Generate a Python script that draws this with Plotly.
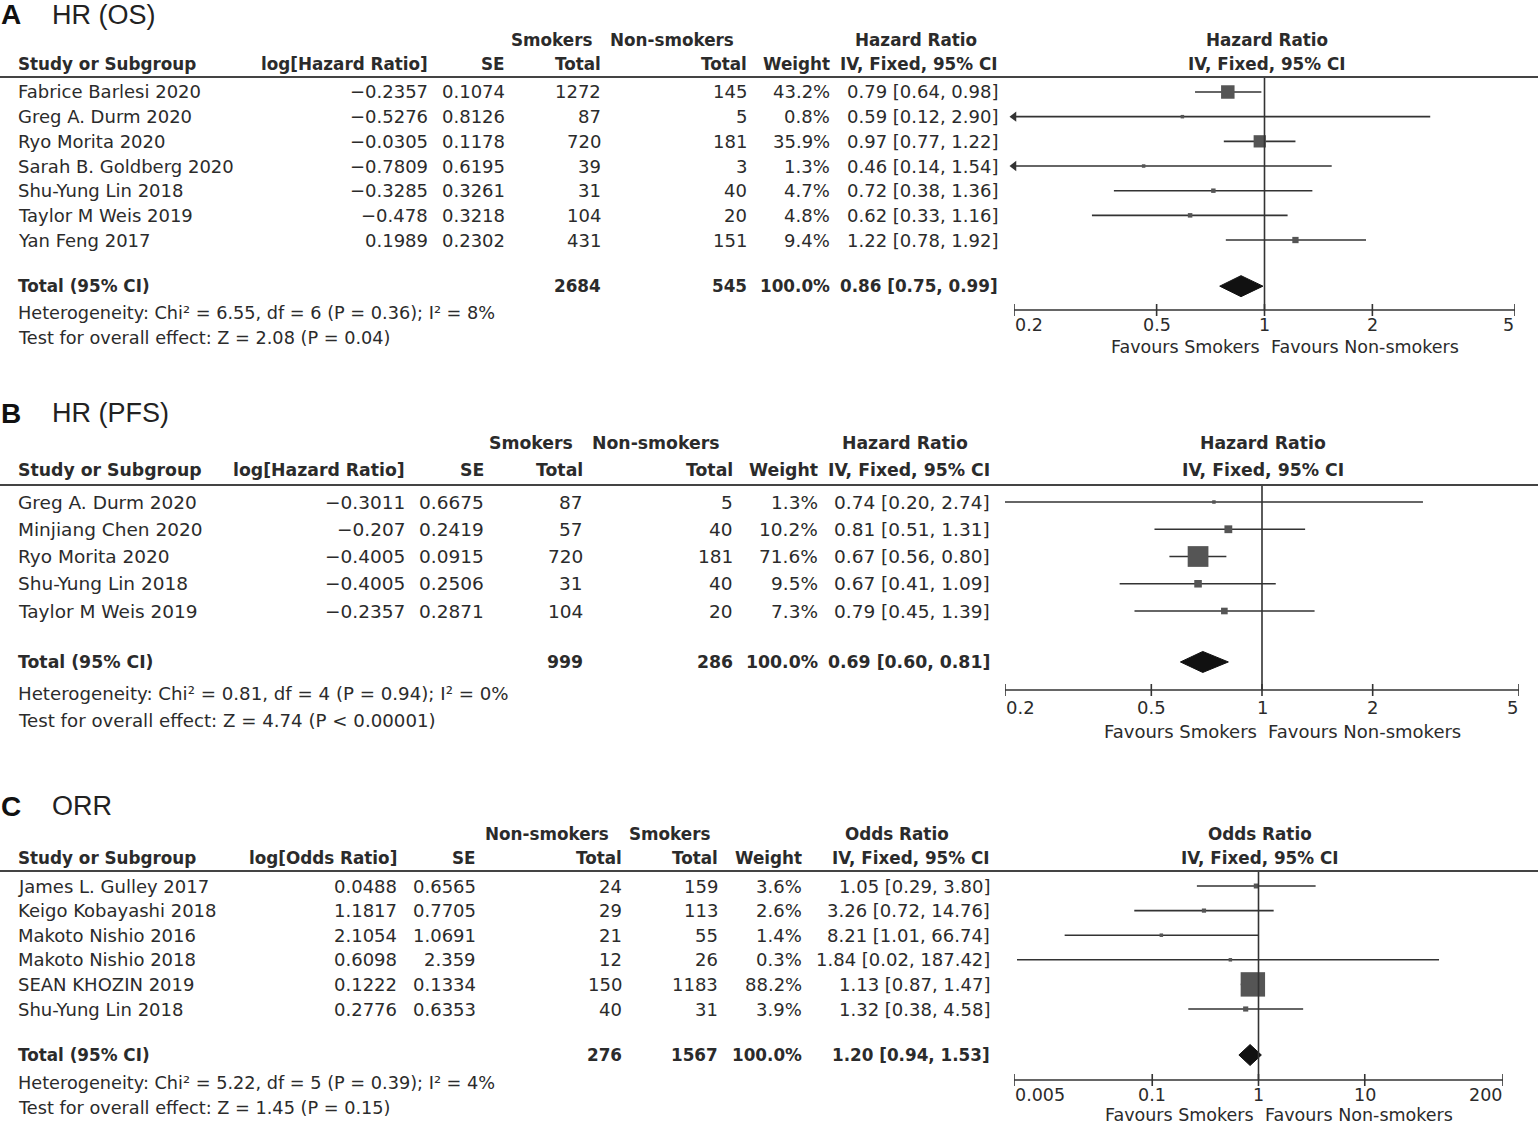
import math
import plotly.graph_objects as go

W, H = 1538, 1125

# ---------------- Panel A : HR (OS) ----------------
a_studies = ["Fabrice Barlesi 2020", "Greg A. Durm 2020", "Ryo Morita 2020", "Sarah B. Goldberg 2020",
             "Shu-Yung Lin 2018", "Taylor M Weis 2019", "Yan Feng 2017"]
a_log = [-0.2357, -0.5276, -0.0305, -0.7809, -0.3285, -0.478, 0.1989]
a_se = [0.1074, 0.8126, 0.1178, 0.6195, 0.3261, 0.3218, 0.2302]
a_n1 = [1272, 87, 720, 39, 31, 104, 431]
a_n2 = [145, 5, 181, 3, 40, 20, 151]
a_weight = [43.2, 0.8, 35.9, 1.3, 4.7, 4.8, 9.4]
a_est = [0.79, 0.59, 0.97, 0.46, 0.72, 0.62, 1.22]
a_lo = [0.64, 0.12, 0.77, 0.14, 0.38, 0.33, 0.78]
a_hi = [0.98, 2.90, 1.22, 1.54, 1.36, 1.16, 1.92]
a_total = dict(n1=2684, n2=545, est=0.86, lo=0.75, hi=0.99)
a_het = dict(chi2="6.55", df=6, p="0.36", i2="8%", z="2.08", pz="P = 0.04")
a_ticks = [0.2, 0.5, 1, 2, 5]

# ---------------- Panel B : HR (PFS) ----------------
b_studies = ["Greg A. Durm 2020", "Minjiang Chen 2020", "Ryo Morita 2020", "Shu-Yung Lin 2018", "Taylor M Weis 2019"]
b_log = [-0.3011, -0.207, -0.4005, -0.4005, -0.2357]
b_se = [0.6675, 0.2419, 0.0915, 0.2506, 0.2871]
b_n1 = [87, 57, 720, 31, 104]
b_n2 = [5, 40, 181, 40, 20]
b_weight = [1.3, 10.2, 71.6, 9.5, 7.3]
b_est = [0.74, 0.81, 0.67, 0.67, 0.79]
b_lo = [0.20, 0.51, 0.56, 0.41, 0.45]
b_hi = [2.74, 1.31, 0.80, 1.09, 1.39]
b_total = dict(n1=999, n2=286, est=0.69, lo=0.60, hi=0.81)
b_het = dict(chi2="0.81", df=4, p="0.94", i2="0%", z="4.74", pz="P < 0.00001")
b_ticks = [0.2, 0.5, 1, 2, 5]

# ---------------- Panel C : ORR ----------------
c_studies = ["James L. Gulley 2017", "Keigo Kobayashi 2018", "Makoto Nishio 2016", "Makoto Nishio 2018",
             "SEAN KHOZIN 2019", "Shu-Yung Lin 2018"]
c_log = [0.0488, 1.1817, 2.1054, 0.6098, 0.1222, 0.2776]
c_se = [0.6565, 0.7705, 1.0691, 2.359, 0.1334, 0.6353]
c_n1 = [24, 29, 21, 12, 150, 40]
c_n2 = [159, 113, 55, 26, 1183, 31]
c_weight = [3.6, 2.6, 1.4, 0.3, 88.2, 3.9]
c_est = [1.05, 3.26, 8.21, 1.84, 1.13, 1.32]
c_lo = [0.29, 0.72, 1.01, 0.02, 0.87, 0.38]
c_hi = [3.80, 14.76, 66.74, 187.42, 1.47, 4.58]
c_total = dict(n1=276, n2=1567, est=1.20, lo=0.94, hi=1.53)
c_het = dict(chi2="5.22", df=5, p="0.39", i2="4%", z="1.45", pz="P = 0.15")
c_ticks = [0.005, 0.1, 1, 10, 200]

FONT = "DejaVu Sans"
TXT = "#2b2b2b"
LINE = "#333333"
BOX = "#555555"

fig = go.Figure()
annotations = []
shapes = []


def px(x):
    return x / W


def py(y):
    return 1 - y / H


def fmt(v):
    return repr(v).replace("-", "\u2212")


def ci_text(e, l, h):
    return f"{e:.2f} [{l:.2f}, {h:.2f}]"


def text(x, y, s, anchor="left", size=18, bold=False, family=FONT, yref="paper", color=TXT):
    if bold:
        s = f"<b>{s}</b>"
    annotations.append(dict(x=px(x), y=(py(y) if yref == "paper" else y), xref="paper", yref=yref,
                            text=s, showarrow=False, xanchor=anchor, yanchor="middle",
                            borderpad=0, borderwidth=0,
                            font=dict(family=family, size=size, color=color)))


def panel(i, cfg, studies, logs, ses, n1, n2, weights, est, lo, hi, total, het, ticks, invert=False):
    fs = cfg["fs"]
    xa = "x" if i == 1 else f"x{i}"
    ya = "y" if i == 1 else f"y{i}"
    s = cfg["step"]
    r0 = cfg["row0"]

    def r(pix):
        return (pix - r0) / s

    r_top = r(cfg["line_y"])
    r_bot = r(cfg["axis_y"] + 30)
    r_axis = r(cfg["axis_y"])

    xmin, xmax = ticks[0], ticks[-1]
    fig.layout[f"xaxis{'' if i == 1 else i}"] = dict(
        type="log", range=[math.log10(xmin), math.log10(xmax)],
        domain=[px(cfg["xdom"][0]), px(cfg["xdom"][1])], visible=False, anchor=ya, fixedrange=True)
    fig.layout[f"yaxis{'' if i == 1 else i}"] = dict(
        range=[r_bot, r_top], domain=[py(cfg["axis_y"] + 30), py(cfg["line_y"])],
        visible=False, anchor=xa, fixedrange=True)

    # titles
    text(1, cfg["title_y"], cfg["letter"], bold=True, size=28, family="Liberation Sans", color="#111")
    text(52, cfg["title_y"], cfg["title"], size=27, family="Liberation Sans", color="#222")

    # headers
    hf = cfg["hf"]
    for lab, cx in cfg["h1"]:
        text(cx, cfg["h1_y"], lab, anchor="center", bold=True, size=hf)
    text(18, cfg["h2_y"], "Study or Subgroup", bold=True, size=hf)
    text(cfg["col_log"], cfg["h2_y"], cfg["logname"], anchor="right", bold=True, size=hf)
    text(cfg["col_se"], cfg["h2_y"], "SE", anchor="right", bold=True, size=hf)
    text(cfg["col_t1"], cfg["h2_y"], "Total", anchor="right", bold=True, size=hf)
    text(cfg["col_t2"], cfg["h2_y"], "Total", anchor="right", bold=True, size=hf)
    text(cfg["col_w"], cfg["h2_y"], "Weight", anchor="right", bold=True, size=hf)
    text(cfg["col_ci"], cfg["h2_y"], "IV, Fixed, 95% CI", anchor="right", bold=True, size=hf)
    text(cfg["fc"], cfg["h1_y"], cfg["measure"], anchor="center", bold=True, size=hf)
    text(cfg["fc"], cfg["h2_y"], "IV, Fixed, 95% CI", anchor="center", bold=True, size=hf)

    shapes.append(dict(type="line", xref="paper", yref="paper", x0=0, x1=1,
                       y0=py(cfg["line_y"]), y1=py(cfg["line_y"]), line=dict(color="#444", width=2)))

    # rows
    for k, name in enumerate(studies):
        text(18, k, name, size=fs, yref=ya)
        text(cfg["col_log"], k, fmt(logs[k]), anchor="right", size=fs, yref=ya)
        text(cfg["col_se"], k, fmt(ses[k]), anchor="right", size=fs, yref=ya)
        text(cfg["col_t1"], k, str(n1[k]), anchor="right", size=fs, yref=ya)
        text(cfg["col_t2"], k, str(n2[k]), anchor="right", size=fs, yref=ya)
        text(cfg["col_w"], k, f"{weights[k]:.1f}%", anchor="right", size=fs, yref=ya)
        text(cfg["col_ci"], k, ci_text(est[k], lo[k], hi[k]), anchor="right", size=fs, yref=ya)

    rt = len(studies) + 0.87
    text(18, rt, "Total (95% CI)", bold=True, size=hf, yref=ya)
    text(cfg["col_t1"], rt, str(total["n1"]), anchor="right", bold=True, size=hf, yref=ya)
    text(cfg["col_t2"], rt, str(total["n2"]), anchor="right", bold=True, size=hf, yref=ya)
    text(cfg["col_w"], rt, "100.0%", anchor="right", bold=True, size=hf, yref=ya)
    text(cfg["col_ci"], rt, ci_text(total["est"], total["lo"], total["hi"]), anchor="right", bold=True,
         size=hf, yref=ya)

    text(18, cfg["het_y"], f"Heterogeneity: Chi\u00b2 = {het['chi2']}, df = {het['df']} (P = {het['p']}); "
                           f"I\u00b2 = {het['i2']}", size=fs - 0.3)
    text(18, cfg["test_y"], f"Test for overall effect: Z = {het['z']} ({het['pz']})", size=fs - 0.3)

    # forest values (panel C drawn on reciprocal scale as in the original figure)
    if invert:
        pe = [1 / v for v in est]
        pl = [1 / v for v in hi]
        ph = [1 / v for v in lo]
        te, tl, th = 1 / total["est"], 1 / total["hi"], 1 / total["lo"]
    else:
        pe, pl, ph = est, lo, hi
        te, tl, th = total["est"], total["lo"], total["hi"]

    # CI lines
    lx, ly = [], []
    for k in range(len(studies)):
        lx += [max(pl[k], xmin), min(ph[k], xmax), None]
        ly += [k, k, None]
    fig.add_trace(go.Scatter(x=lx, y=ly, xaxis=xa, yaxis=ya, mode="lines",
                             line=dict(color=LINE, width=1.6), hoverinfo="skip"))
    # arrows where CI leaves range
    axl = [xmin for k in range(len(studies)) if pl[k] < xmin]
    ayl = [k for k in range(len(studies)) if pl[k] < xmin]
    if axl:
        fig.add_trace(go.Scatter(x=axl, y=ayl, xaxis=xa, yaxis=ya, mode="markers", cliponaxis=False,
                                 marker=dict(symbol="triangle-left", size=9, color=LINE), hoverinfo="skip"))
    axr = [xmax for k in range(len(studies)) if ph[k] > xmax]
    ayr = [k for k in range(len(studies)) if ph[k] > xmax]
    if axr:
        fig.add_trace(go.Scatter(x=axr, y=ayr, xaxis=xa, yaxis=ya, mode="markers", cliponaxis=False,
                                 marker=dict(symbol="triangle-right", size=9, color=LINE), hoverinfo="skip"))
    # squares
    sizes = [max(3.5, cfg["box"] * math.sqrt(w)) for w in weights]
    fig.add_trace(go.Scatter(x=pe, y=list(range(len(studies))), xaxis=xa, yaxis=ya, mode="markers",
                             marker=dict(symbol="square", size=sizes, color=BOX, opacity=1, line=dict(width=0)),
                             hoverinfo="skip"))
    # diamond
    hd = 10.5 / s
    fig.add_trace(go.Scatter(x=[tl, te, th, te, tl], y=[rt, rt - hd, rt, rt + hd, rt], xaxis=xa, yaxis=ya,
                             mode="lines", fill="toself", fillcolor="#111", line=dict(color="#111", width=1),
                             hoverinfo="skip"))
    # null line
    fig.add_trace(go.Scatter(x=[1, 1], y=[r_top, r_axis], xaxis=xa, yaxis=ya, mode="lines",
                             line=dict(color=LINE, width=1.6), hoverinfo="skip"))
    # axis line + ticks
    tx, ty = [xmin, xmax, None], [r_axis, r_axis, None]
    for t in ticks:
        tx += [t, t, None]
        ty += [r_axis - 6 / s, r_axis + 6 / s, None]
    fig.add_trace(go.Scatter(x=tx, y=ty, xaxis=xa, yaxis=ya, mode="lines",
                             line=dict(color=LINE, width=1.6), hoverinfo="skip"))
    for j, t in enumerate(ticks):
        anc = "left" if j == 0 else ("right" if j == len(ticks) - 1 else "center")
        annotations.append(dict(x=math.log10(t), y=py(cfg["tl_y"]), xref=xa, yref="paper", text=f"{t:g}",
                                showarrow=False, xanchor=anc, yanchor="middle", borderpad=0,
                                font=dict(family=FONT, size=fs - 0.5, color=TXT)))
    annotations.append(dict(x=0, y=py(cfg["fav_y"]), xref=xa, yref="paper", text="Favours Smokers",
                            showarrow=False, xanchor="right", yanchor="middle", xshift=-4, borderpad=0,
                            font=dict(family=FONT, size=fs - 0.5, color=TXT)))
    annotations.append(dict(x=0, y=py(cfg["fav_y"]), xref=xa, yref="paper", text="Favours Non-smokers",
                            showarrow=False, xanchor="left", yanchor="middle", xshift=5, borderpad=0,
                            font=dict(family=FONT, size=fs - 0.5, color=TXT)))


cfgA = dict(letter="A", title="HR (OS)", title_y=15, h1_y=40, h2_y=64, line_y=77, row0=92, step=24.67,
            axis_y=310, tl_y=325, fav_y=347, het_y=313, test_y=338,
            col_log=428, col_se=505, col_t1=601, col_t2=747, col_w=830, col_ci=998,
            h1=[("Smokers", 551), ("Non-smokers", 672), ("Hazard Ratio", 916)],
            logname="log[Hazard Ratio]", measure="Hazard Ratio", fc=1267, xdom=(1014, 1515),
            fs=18, hf=16.8, box=2.05)
cfgB = dict(letter="B", title="HR (PFS)", title_y=413, h1_y=443, h2_y=470, line_y=485, row0=502, step=27.25,
            axis_y=690, tl_y=707, fav_y=731, het_y=693, test_y=720,
            col_log=405, col_se=484, col_t1=583, col_t2=733, col_w=818, col_ci=990,
            h1=[("Smokers", 531), ("Non-smokers", 656), ("Hazard Ratio", 905)],
            logname="log[Hazard Ratio]", measure="Hazard Ratio", fc=1263, xdom=(1005, 1519),
            fs=18.5, hf=17.3, box=2.45)
cfgC = dict(letter="C", title="ORR", title_y=806, h1_y=834, h2_y=858, line_y=871, row0=886, step=24.6,
            axis_y=1080, tl_y=1095, fav_y=1115, het_y=1083, test_y=1108,
            col_log=397, col_se=476, col_t1=622, col_t2=718, col_w=802, col_ci=990,
            h1=[("Non-smokers", 547), ("Smokers", 669), ("Odds Ratio", 897)],
            logname="log[Odds Ratio]", measure="Odds Ratio", fc=1260, xdom=(1014, 1503),
            fs=18, hf=16.8, box=2.6)

panel(1, cfgA, a_studies, a_log, a_se, a_n1, a_n2, a_weight, a_est, a_lo, a_hi, a_total, a_het, a_ticks)
panel(2, cfgB, b_studies, b_log, b_se, b_n1, b_n2, b_weight, b_est, b_lo, b_hi, b_total, b_het, b_ticks)
panel(3, cfgC, c_studies, c_log, c_se, c_n1, c_n2, c_weight, c_est, c_lo, c_hi, c_total, c_het, c_ticks,
      invert=True)

fig.update_layout(width=W, height=H, margin=dict(l=0, r=0, t=0, b=0), showlegend=False,
                  plot_bgcolor="white", paper_bgcolor="white", annotations=annotations, shapes=shapes)
fig.write_html("out.html", config={"displayModeBar": False},
               post_script="document.body.style.margin='0';document.body.style.overflow='hidden';")
